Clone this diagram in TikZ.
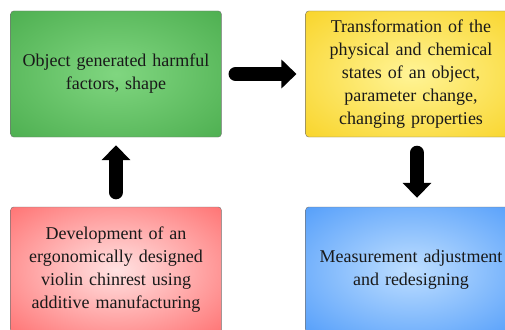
\documentclass[tikz,border=0pt]{standalone}
\usepackage{fontspec}
\setmainfont{Liberation Serif}
\usepackage{tikz}
\usetikzlibrary{arrows.meta,positioning}

\definecolor{greenin}{RGB}{128,214,128}
\definecolor{greenout}{RGB}{58,160,62}
\definecolor{yellowin}{RGB}{255,244,150}
\definecolor{yellowout}{RGB}{246,200,0}
\definecolor{redin}{RGB}{255,226,226}
\definecolor{redout}{RGB}{255,72,72}
\definecolor{bluein}{RGB}{190,222,255}
\definecolor{blueout}{RGB}{44,134,248}
\definecolor{textdark}{RGB}{25,25,25}

\pgfdeclareradialshading{greenglow}{\pgfpoint{0bp}{0bp}}{color(0bp)=(greenin);
    color(50bp)=(greenout); color(100bp)=(greenout)}
\pgfdeclareradialshading{yellowglow}{\pgfpoint{0bp}{0bp}}{color(0bp)=(yellowin);
    color(50bp)=(yellowout); color(100bp)=(yellowout)}
\pgfdeclareradialshading{redglow}{\pgfpoint{0bp}{0bp}}{color(0bp)=(redin);
    color(50bp)=(redout); color(100bp)=(redout)}
\pgfdeclareradialshading{blueglow}{\pgfpoint{0bp}{0bp}}{color(0bp)=(bluein);
    color(50bp)=(blueout); color(100bp)=(blueout)}

\tikzset{
    box/.style = {draw = black!55, rounded corners = 3pt,
        minimum width = 210pt, minimum height = 126pt,
        text width = 204pt, align = center, text = textdark,
        font = \fontsize{18}{23}\selectfont},
    fatarrow/.style = {draw = black, line width = 14pt, line cap = round,
        -{Triangle[length = 15pt, width = 28pt]}}
}

\begin{document}
\begin{tikzpicture}[x = 1pt, y = -1pt]
        \useasboundingbox (0, 0) rectangle (505, 329);
        \clip (0, 0) rectangle (505, 329);

        \node[box, shading = greenglow]
            (harmful) at (116, 74) {Object generated harmful\\ factors, shape};
        \node[box, shading = yellowglow]
            (transform) at (411, 74) {Transformation of the\\ physical and chemical\\
            states of an object,\\ parameter change,\\ changing properties};
        \node[box, shading = redglow]
            (chinrest) at (116, 270) {Development of an\\ ergonomically designed\\
            violin chinrest using\\ additive manufacturing};
        \node[box, shading = blueglow]
            (measure) at (411, 270) {Measurement adjustment\\ and redesigning};

        % connectors
        \draw[fatarrow, shorten <= 14pt, shorten >= 9pt] (harmful) -- (transform);
        \draw[fatarrow, shorten <= 14.5pt, shorten >= 8pt]
            (chinrest.north) -- (harmful.south);
        \draw[fatarrow, shorten <= 15.5pt, shorten >= 9pt]
            ([xshift = 6pt]transform.south) -- ([xshift = 6pt]measure.north);
\end{tikzpicture}
\end{document}
